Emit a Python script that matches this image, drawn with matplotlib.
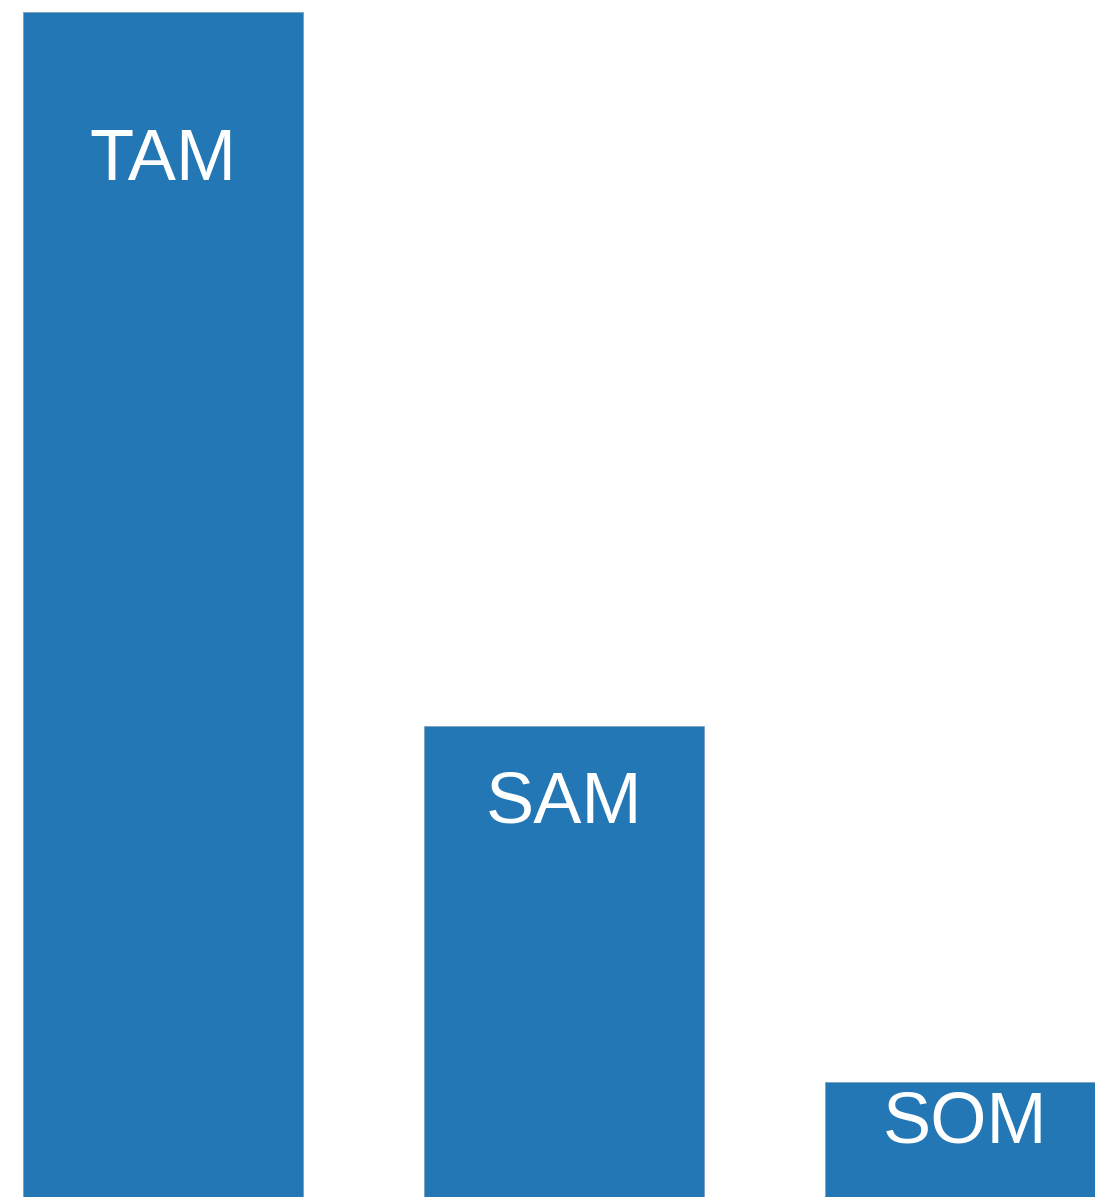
import matplotlib
matplotlib.use("Agg")
import matplotlib.pyplot as plt

# market sizing tiers (relative, TAM = 100)
categories = ["TAM", "SAM", "SOM"]
values = [100, 39.7, 9.7]

BAR_COLOR = "#2277b4"
# how far below each bar top the label sits (data units)
label_drop = [12.6, 6.5, 3.55]

fig = plt.figure(figsize=(10.95, 11.97), dpi=100)
ax = fig.add_axes([0, 0, 1, 1])

x = range(len(categories))
ax.bar(x, values, width=0.7, color=BAR_COLOR, edgecolor="#7f9fbf",
       linewidth=0.6)

for xi, v, name, d in zip(x, values, categories, label_drop):
    ax.text(xi, v - d, name, ha="center", va="center", color="white",
            fontsize=52, family=["Liberation Sans", "DejaVu Sans"])

ax.set_xlim(-0.4065, 2.324)
ax.set_ylim(0, 101.0)
ax.axis("off")

fig.savefig("out.png", dpi=100, facecolor="white")
